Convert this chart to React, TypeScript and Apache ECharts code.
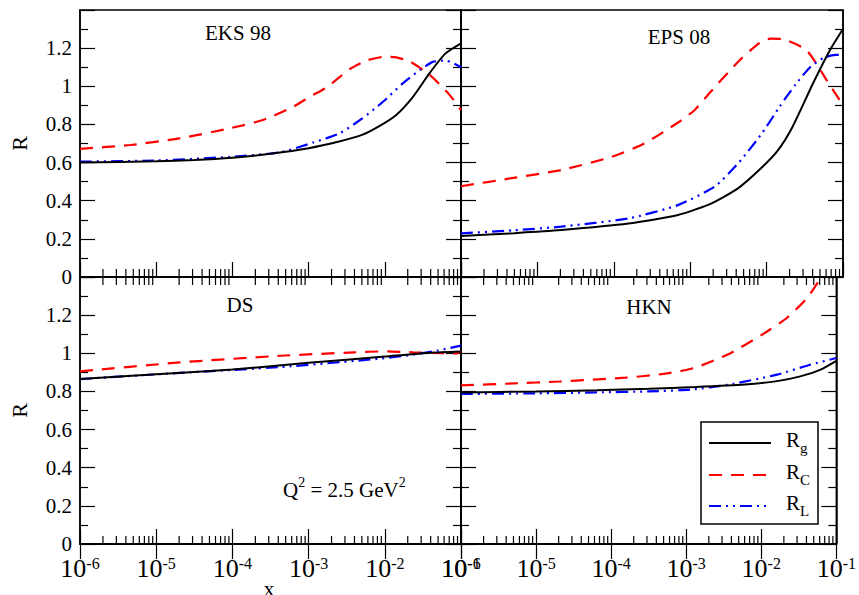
import React, { useEffect, useRef } from 'react';
import * as echarts from 'echarts';

const FONT = "'Liberation Serif','Times New Roman',serif";

const panelTitles = ['EKS 98', 'EPS 08', 'DS', 'HKN'];
const xExponents = [-6, -5, -4, -3, -2, -1];
const legendNames = [['R', 'g'], ['R', 'C'], ['R', 'L']];

// [log10(x), R]
const eksRg = [[-6, 0.6], [-5, 0.607], [-4.5, 0.613], [-4, 0.625], [-3.5, 0.646], [-3, 0.675], [-2.6, 0.71], [-2.3, 0.745], [-2.09, 0.787], [-1.85, 0.85], [-1.63, 0.945], [-1.41, 1.07], [-1.21, 1.17], [-1, 1.225]];
const eksRc = [[-6, 0.672], [-5.34, 0.692], [-4.69, 0.727], [-4.03, 0.78], [-3.6, 0.823], [-3.2, 0.893], [-2.98, 0.946], [-2.76, 0.995], [-2.46, 1.09], [-2.24, 1.135], [-2.0, 1.155], [-1.85, 1.152], [-1.67, 1.13], [-1.41, 1.06], [-1.15, 0.955], [-1, 0.875]];
const eksRl = [[-6, 0.605], [-5, 0.611], [-4.03, 0.63], [-3.37, 0.654], [-2.94, 0.705], [-2.59, 0.754], [-2.3, 0.83], [-2.02, 0.92], [-1.76, 1.017], [-1.54, 1.085], [-1.37, 1.128], [-1.2, 1.135], [-1, 1.1]];

const epsRg = [[-6, 0.215], [-5.3, 0.23], [-4.69, 0.246], [-3.81, 0.28], [-3.16, 0.325], [-2.72, 0.386], [-2.37, 0.466], [-2.06, 0.575], [-1.85, 0.665], [-1.66, 0.788], [-1.39, 1.017], [-1.17, 1.19], [-1, 1.3]];
const epsRc = [[-6, 0.476], [-5.34, 0.518], [-4.69, 0.561], [-4.03, 0.63], [-3.6, 0.7], [-3.16, 0.81], [-2.94, 0.876], [-2.75, 0.963], [-2.35, 1.138], [-2.09, 1.228], [-1.95, 1.25], [-1.8, 1.248], [-1.48, 1.19], [-1.21, 1.03], [-1, 0.9]];
const epsRl = [[-6, 0.229], [-5.3, 0.245], [-4.69, 0.264], [-3.81, 0.307], [-3.16, 0.377], [-2.68, 0.474], [-2.37, 0.597], [-2.06, 0.754], [-1.83, 0.893], [-1.62, 1.01], [-1.43, 1.1], [-1.25, 1.15], [-1.1, 1.165], [-1, 1.164]];

const dsRg = [[-6, 0.865], [-5, 0.89], [-4, 0.915], [-3, 0.95], [-2, 0.983], [-1.4, 1.003], [-1, 1.01]];
const dsRc = [[-6, 0.905], [-4.69, 0.952], [-3.37, 0.987], [-2.4, 1.005], [-2, 1.01], [-1.63, 1.005], [-1.19, 1.0], [-1.05, 1.0], [-1, 1.012]];
const dsRl = [[-6, 0.865], [-4.69, 0.897], [-3.37, 0.928], [-2.06, 0.972], [-1.63, 0.993], [-1.3, 1.015], [-1, 1.04]];

const hknRg = [[-6, 0.795], [-5, 0.8], [-4.19, 0.806], [-3.5, 0.814], [-2.88, 0.823], [-2.22, 0.836], [-1.79, 0.854], [-1.48, 0.879], [-1.21, 0.914], [-1, 0.96]];
const hknRc = [[-6, 0.832], [-5.3, 0.842], [-4.69, 0.852], [-3.81, 0.872], [-3.3, 0.892], [-2.9, 0.922], [-2.44, 0.995], [-2, 1.095], [-1.66, 1.185], [-1.39, 1.29], [-1.22, 1.385], [-1.16, 1.4]];
const hknRl = [[-6, 0.787], [-5, 0.79], [-4.19, 0.795], [-3.5, 0.8], [-2.94, 0.81], [-2.44, 0.835], [-1.79, 0.888], [-1.35, 0.94], [-1, 0.975]];

const panels = [
  [eksRg, eksRc, eksRl],
  [epsRg, epsRc, epsRl],
  [dsRg, dsRc, dsRl],
  [hknRg, hknRc, hknRl],
];

// minor decade ticks (2..9 x 10^n), in log10 space
const minorTicks: number[][] = [];
for (let n = -6; n < -1; n++) for (let k = 2; k <= 9; k++) minorTicks.push([n + Math.log10(k), 0]);

const BLACK = '#000000';
const RED = '#ff0000';
const BLUE = '#0000ff';
const RED_DASH = [13, 9];
const BLUE_DASH = [12, 5, 2, 5, 2, 5];

const grids = [
  { left: 80, top: 10, width: 381, height: 267 },
  { left: 461, top: 10, width: 382, height: 267 },
  { left: 80, top: 277, width: 381, height: 267 },
  { left: 461, top: 277, width: 382, height: 267 },
];

const axisLine = { show: true, lineStyle: { color: BLACK, width: 1.5 } };
const tickStyle = { color: BLACK, width: 1.2 };

export default function App() {
  const ref = useRef<HTMLDivElement>(null);
  useEffect(() => {
    if (!ref.current) return;
    const chart = echarts.init(ref.current, null, { renderer: 'svg' });

    const xAxes: any[] = [];
    for (let g = 0; g < 4; g++) {
      xAxes.push({
        gridIndex: g,
        type: 'value',
        min: -6,
        max: -1,
        interval: 1,
        position: 'bottom',
        axisLine,
        axisTick: { show: true, inside: true, length: 15, lineStyle: tickStyle },
        splitLine: { show: false },
        axisLabel: {
          show: g >= 2,
          margin: 11,
          fontSize: 26,
          fontFamily: FONT,
          color: BLACK,
          hideOverlap: false,
          formatter: (v: number) => {
            const e = xExponents.find((t) => Math.abs(t - v) < 1e-6);
            return e === undefined ? '' : `{a|10}{b|${e}}`;
          },
          rich: {
            a: { fontSize: 26, fontFamily: FONT, color: BLACK, lineHeight: 26, verticalAlign: 'middle' },
            b: { fontSize: 16, fontFamily: FONT, color: BLACK, lineHeight: 10, verticalAlign: 'top' },
          },
        },
      });
    }
    for (let g = 2; g < 4; g++) {
      xAxes.push({
        gridIndex: g,
        type: 'value',
        min: -6,
        max: -1,
        interval: 1,
        position: 'top',
        axisLine,
        axisTick: { show: true, inside: true, length: 15, lineStyle: tickStyle },
        splitLine: { show: false },
        axisLabel: { show: false },
      });
    }

    const yAxes: any[] = [];
    for (let g = 0; g < 4; g++) {
      for (const pos of ['left', 'right']) {
        yAxes.push({
          gridIndex: g,
          type: 'value',
          min: 0,
          max: 1.4,
          interval: 0.2,
          position: pos,
          axisLine,
          axisTick: { show: true, inside: true, length: 15, lineStyle: tickStyle },
          minorTick: { show: true, splitNumber: 2, length: 8, lineStyle: tickStyle },
          splitLine: { show: false },
          axisLabel: {
            show: pos === 'left' && g % 2 === 0,
            margin: 8,
            fontSize: 21,
            lineHeight: 18,
            fontFamily: FONT,
            color: BLACK,
            formatter: (v: number) => (v > 1.35 ? '' : String(Math.round(v * 10) / 10)),
          },
          name: pos === 'left' && g % 2 === 0 ? 'R' : '',
          nameLocation: 'middle',
          nameGap: 50,
          nameTextStyle: { fontSize: 22, fontFamily: FONT, color: BLACK },
        });
      }
    }

    const series: any[] = [];
    panels.forEach((p, g) => {
      const common = {
        type: 'line',
        xAxisIndex: g,
        yAxisIndex: g * 2,
        symbol: 'none',
        smooth: 0.2,
        clip: true,
      };
      series.push({ ...common, name: 'Rg', data: p[0], lineStyle: { color: BLACK, width: 2 }, z: 4 });
      series.push({ ...common, name: 'RC', data: p[1], lineStyle: { color: RED, width: 2.2, type: RED_DASH }, z: 3 });
      series.push({ ...common, name: 'RL', data: p[2], lineStyle: { color: BLUE, width: 2.2, type: BLUE_DASH }, z: 3 });
      series.push({
        type: 'custom',
        xAxisIndex: g,
        yAxisIndex: g * 2,
        data: minorTicks,
        silent: true,
        renderItem: (params: any, api: any) => {
          const x = api.value(0);
          const b = api.coord([x, 0]);
          const children: any[] = [
            { type: 'line', shape: { x1: b[0], y1: b[1], x2: b[0], y2: b[1] - 8 }, style: { stroke: BLACK, lineWidth: 1.2 } },
          ];
          if (g >= 2) {
            const t = api.coord([x, 1.4]);
            children.push({ type: 'line', shape: { x1: t[0], y1: t[1], x2: t[0], y2: t[1] + 8 }, style: { stroke: BLACK, lineWidth: 1.2 } });
          }
          return { type: 'group', children };
        },
      });
    });

    const plainText = (text: string, x: number, y: number) => ({
      type: 'text',
      x,
      y,
      style: { text, fontSize: 21, fontFamily: FONT, fill: BLACK, align: 'center', verticalAlign: 'middle' },
      z: 10,
    });
    const titlePos = [[238, 33], [679, 37], [240, 305], [649, 307]];

    const legendY = [443, 475, 506];
    const legendStyles = [
      { stroke: BLACK, lineWidth: 2 },
      { stroke: RED, lineWidth: 2.2, lineDash: RED_DASH },
      { stroke: BLUE, lineWidth: 2.2, lineDash: BLUE_DASH },
    ];
    const subRich = {
      a: { fontSize: 21, fontFamily: FONT, fill: BLACK, color: BLACK, lineHeight: 30, verticalAlign: 'middle' },
      b: { fontSize: 15, fontFamily: FONT, fill: BLACK, color: BLACK, lineHeight: 14, verticalAlign: 'bottom' },
    };
    const supRich = {
      a: { fontSize: 21, fontFamily: FONT, fill: BLACK, color: BLACK, lineHeight: 30, verticalAlign: 'middle' },
      s: { fontSize: 14, fontFamily: FONT, fill: BLACK, color: BLACK, lineHeight: 12, verticalAlign: 'top' },
    };

    const graphic: any[] = [
      ...panelTitles.map((t, i) => plainText(t, titlePos[i][0], titlePos[i][1])),
      plainText('x', 269, 589),
      {
        type: 'text',
        x: 283,
        y: 490,
        z: 10,
        style: { text: '{a|Q}{s|2}{a| = 2.5 GeV}{s|2}', rich: supRich, align: 'left', verticalAlign: 'middle' },
      },
      {
        type: 'rect',
        shape: { x: 701, y: 422, width: 117, height: 102 },
        style: { fill: '#ffffff', stroke: BLACK, lineWidth: 1.5 },
        z: 10,
      },
      ...legendY.map((y, i) => ({
        type: 'line',
        shape: { x1: 709, y1: y, x2: 771, y2: y },
        style: { ...legendStyles[i], fill: null },
        z: 11,
      })),
      ...legendY.map((y, i) => ({
        type: 'text',
        x: 786,
        y: y - 3,
        z: 11,
        style: { text: `{a|${legendNames[i][0]}}{b|${legendNames[i][1]}}`, rich: subRich, align: 'left', verticalAlign: 'middle' },
      })),
    ];

    chart.setOption({
      animation: false,
      backgroundColor: '#ffffff',
      grid: grids.map((g) => ({ ...g, show: true, borderColor: BLACK, borderWidth: 1.5, containLabel: false })),
      xAxis: xAxes,
      yAxis: yAxes,
      series,
      graphic,
    });
    return () => chart.dispose();
  }, []);
  return <div ref={ref} style={{ position: 'fixed', left: 0, top: 0, width: 859, height: 595 }} />;
}
